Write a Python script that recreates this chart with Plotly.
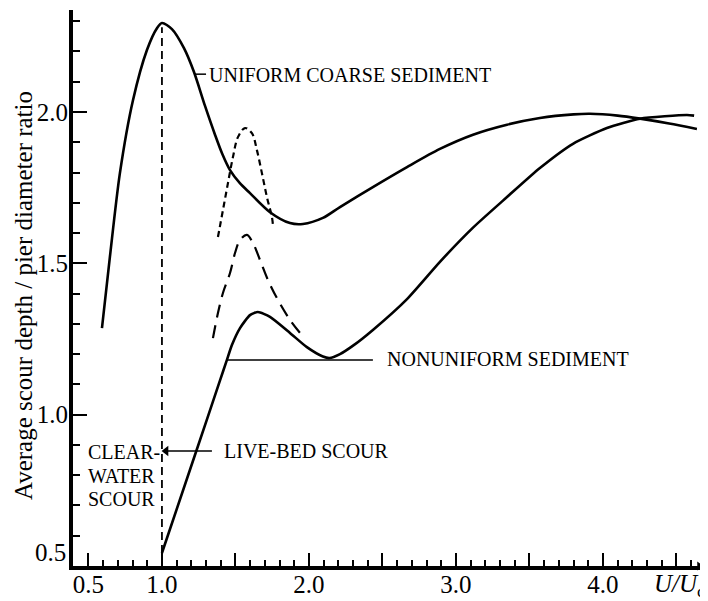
import plotly.graph_objects as go

# ---------------- data ----------------
uniform_x = [0.592, 0.646, 0.714, 0.803, 0.898, 0.966, 1.0, 1.068, 1.150, 1.218, 1.293, 1.361,
             1.41, 1.463, 1.53, 1.599, 1.735, 1.871, 1.959, 2.095, 2.211, 2.435, 2.667, 2.891,
             3.116, 3.347, 3.571, 3.80, 3.912, 4.10, 4.252, 4.45, 4.639]
uniform_y = [1.286, 1.521, 1.798, 2.039, 2.205, 2.277, 2.294, 2.274, 2.211, 2.132, 2.020, 1.925,
             1.862, 1.808, 1.765, 1.732, 1.669, 1.633, 1.630, 1.650, 1.686, 1.752, 1.818, 1.878,
             1.925, 1.958, 1.980, 1.992, 1.994, 1.988, 1.978, 1.962, 1.944]

nonuni_x = [1.0, 1.22, 1.395, 1.442, 1.476, 1.531, 1.599, 1.653, 1.735, 1.871, 1.986,
            2.095, 2.14, 2.211, 2.30, 2.435, 2.667, 2.891, 3.116, 3.347, 3.571, 3.796, 4.027,
            4.252, 4.571, 4.62]
nonuni_y = [0.543, 0.860, 1.113, 1.181, 1.230, 1.286, 1.329, 1.339, 1.323, 1.270, 1.223,
            1.192, 1.187, 1.200, 1.228, 1.280, 1.382, 1.505, 1.618, 1.719, 1.815, 1.895, 1.947,
            1.978, 1.990, 1.988]

short_dash_x = [1.381, 1.415, 1.449, 1.483, 1.517, 1.565, 1.612, 1.646, 1.680, 1.714, 1.748, 1.755]
short_dash_y = [1.587, 1.676, 1.765, 1.851, 1.917, 1.947, 1.930, 1.874, 1.798, 1.719, 1.653, 1.627]

long_dash_x = [1.347, 1.381, 1.415, 1.463, 1.497, 1.531, 1.578, 1.619, 1.667, 1.721, 1.789, 1.871, 1.939]
long_dash_y = [1.253, 1.336, 1.402, 1.468, 1.534, 1.577, 1.594, 1.567, 1.511, 1.445, 1.379, 1.313, 1.270]

threshold_x = [1.0, 1.0]
threshold_y = [0.5, 2.28]

x_tickvals = [0.5, 1.0, 2.0, 3.0, 4.0]
x_ticktext = ["0.5", "1.0", "2.0", "3.0", "4.0"]
x_halfticks = [1.5, 2.5, 3.5, 4.5]
y_tickvals = [1.0, 1.5, 2.0]
y_ticktext = ["1.0", "1.5", "2.0"]

FONT = "Liberation Serif, Times New Roman, serif"
XR = [0.395, 4.66]
YR = [0.5, 2.337]

fig = go.Figure()

fig.add_trace(go.Scatter(x=threshold_x, y=threshold_y, mode="lines",
                         line=dict(color="black", width=1.8, dash="8px,5px"),
                         showlegend=False, hoverinfo="skip"))
fig.add_trace(go.Scatter(x=uniform_x, y=uniform_y, mode="lines",
                         line=dict(color="black", width=2.6, shape="spline", smoothing=0.8),
                         showlegend=False))
fig.add_trace(go.Scatter(x=nonuni_x, y=nonuni_y, mode="lines",
                         line=dict(color="black", width=2.6, shape="spline", smoothing=0.6),
                         showlegend=False))
fig.add_trace(go.Scatter(x=short_dash_x, y=short_dash_y, mode="lines",
                         line=dict(color="black", width=2.2, dash="6px,4px", shape="spline"),
                         showlegend=False))
fig.add_trace(go.Scatter(x=long_dash_x, y=long_dash_y, mode="lines",
                         line=dict(color="black", width=2.2, dash="13px,8px", shape="spline"),
                         showlegend=False))

# leader lines
fig.add_trace(go.Scatter(x=[1.218, 1.30], y=[2.125, 2.125], mode="lines",
                         line=dict(color="black", width=1.5), showlegend=False))
fig.add_trace(go.Scatter(x=[1.442, 2.435], y=[1.181, 1.181], mode="lines",
                         line=dict(color="black", width=1.5), showlegend=False))
# live-bed scour arrow (line + arrowhead marker)
fig.add_trace(go.Scatter(x=[1.02, 1.34], y=[0.880, 0.880], mode="lines",
                         line=dict(color="black", width=1.5), showlegend=False))
fig.add_trace(go.Scatter(x=[1.028], y=[0.880], mode="markers",
                         marker=dict(symbol="triangle-left", size=9, color="black"),
                         showlegend=False))
# arrowhead at the end of the x axis
fig.add_trace(go.Scatter(x=[4.655], y=[0.5], mode="markers", cliponaxis=False,
                         marker=dict(symbol="triangle-right", size=8, color="black"),
                         showlegend=False))
# invisible trace to carry the overlay axis (half-unit ticks)
fig.add_trace(go.Scatter(x=[None], y=[None], xaxis="x2", yaxis="y", showlegend=False))

ann = [
    dict(x=1.306, y=2.122, text="UNIFORM COARSE SEDIMENT", xanchor="left", yanchor="middle"),
    dict(x=2.517, y=1.185, text="NONUNIFORM SEDIMENT", xanchor="left", yanchor="middle"),
    dict(x=1.408, y=0.880, text="LIVE-BED SCOUR", xanchor="left", yanchor="middle"),
    dict(x=0.483, y=0.877, text="CLEAR-", xanchor="left", yanchor="middle"),
    dict(x=0.483, y=0.796, text="WATER", xanchor="left", yanchor="middle"),
    dict(x=0.483, y=0.720, text="SCOUR", xanchor="left", yanchor="middle"),
]
for a in ann:
    fig.add_annotation(xref="x", yref="y", showarrow=False,
                       font=dict(family=FONT, size=20, color="black"), **a)

# y tick label 0.5 (raised above the x axis)
fig.add_annotation(xref="paper", yref="y", x=-0.008, y=0.543, text="0.5",
                   showarrow=False, xanchor="right", yanchor="middle",
                   font=dict(family=FONT, size=25, color="black"))

# axis title (y)
fig.add_annotation(xref="paper", yref="paper", x=-0.080, y=0.487,
                   text="Average scour depth / pier diameter ratio", textangle=-90,
                   showarrow=False, xanchor="center", yanchor="middle",
                   font=dict(family=FONT, size=25, color="black"))

# x axis title
fig.add_annotation(xref="x", yref="paper", x=4.335, y=-0.004,
                   text="<i>U/U</i><sub>c</sub>", showarrow=False,
                   xanchor="left", yanchor="top",
                   font=dict(family=FONT, size=25, color="black"))

# The page places the plot 8 px from the top-left corner, so the figure is
# 8 px smaller in each direction and the left/top margins are reduced by 8.
fig.update_layout(
    template="none",
    width=700, height=593,
    margin=dict(l=65, r=8, t=2, b=35, autoexpand=False),
    paper_bgcolor="white", plot_bgcolor="white",
    font=dict(family=FONT, size=25, color="black"),
    showlegend=False,
    xaxis=dict(range=XR, showgrid=False, zeroline=False, automargin=False,
               showline=True, linewidth=4, linecolor="black",
               tickmode="array", tickvals=x_tickvals, ticktext=x_ticktext,
               ticks="inside", ticklen=13, tickwidth=1.5, tickcolor="black",
               ticklabelstandoff=-7,
               minor=dict(dtick=0.1, tick0=0, ticks="inside", ticklen=6,
                          tickwidth=1.5, tickcolor="black", showgrid=False),
               tickfont=dict(family=FONT, size=25, color="black")),
    xaxis2=dict(range=XR, overlaying="x", anchor="y", side="bottom",
                showgrid=False, zeroline=False, automargin=False, showline=False,
                tickmode="array", tickvals=x_halfticks, showticklabels=False,
                ticks="inside", ticklen=13, tickwidth=1.5, tickcolor="black"),
    yaxis=dict(range=YR, showgrid=False, zeroline=False, automargin=False,
               showline=True, linewidth=4, linecolor="black",
               tickmode="array", tickvals=y_tickvals, ticktext=y_ticktext,
               ticks="inside", ticklen=14, tickwidth=1.5, tickcolor="black",
               ticklabelstandoff=-4,
               minor=dict(dtick=0.1, tick0=0, ticks="inside", ticklen=7,
                          tickwidth=1.5, tickcolor="black", showgrid=False),
               tickfont=dict(family=FONT, size=25, color="black")),
)

fig.write_html("out.html")
